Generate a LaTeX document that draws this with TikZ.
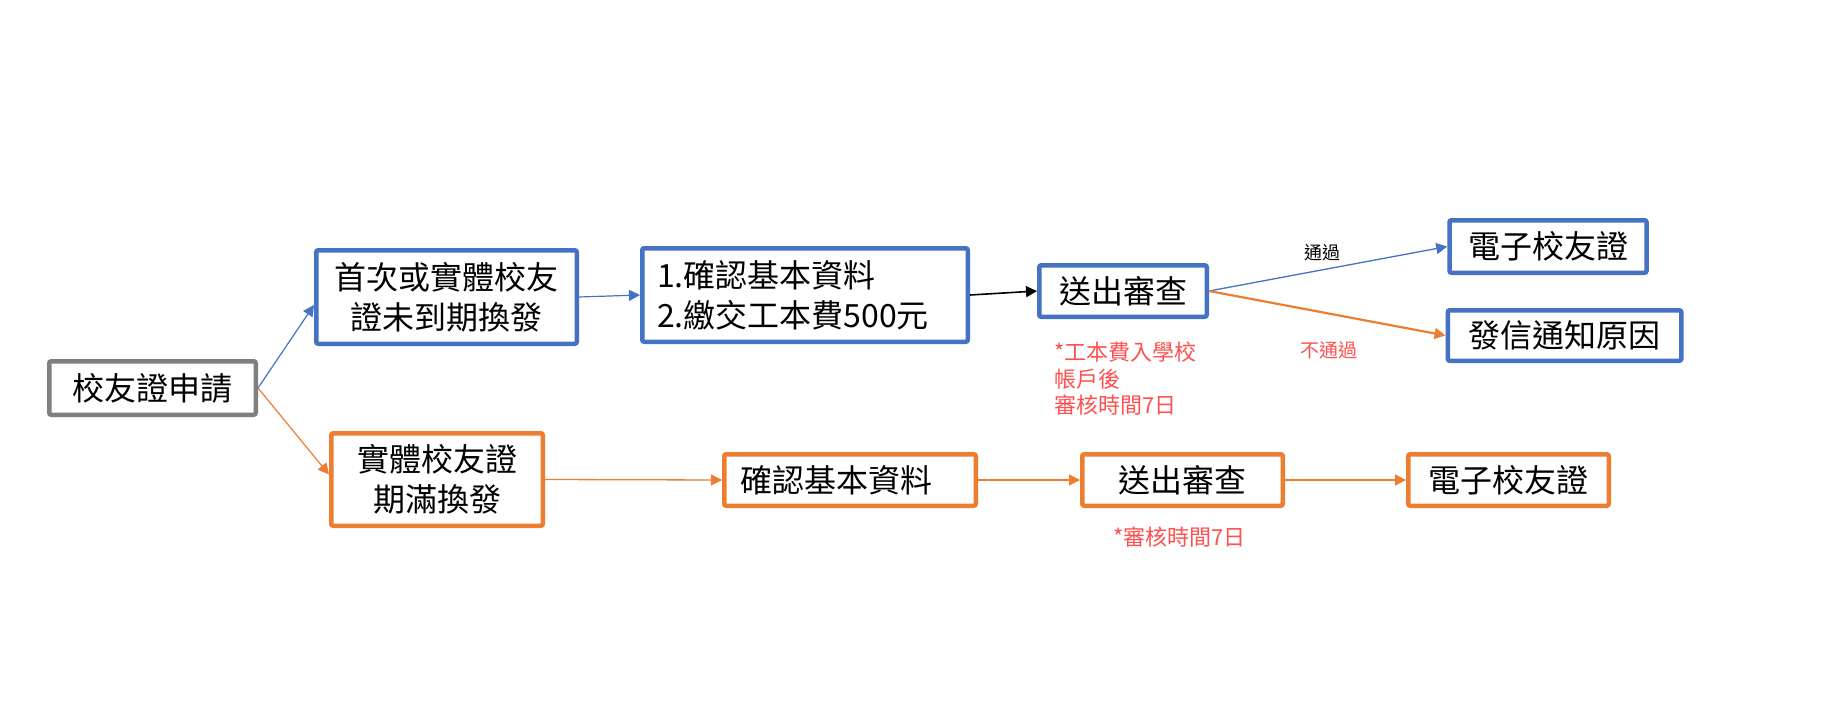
\documentclass[tikz,border=0pt]{standalone}
\usepackage{fontspec}
\setmainfont{Noto Sans CJK TC}
\usetikzlibrary{arrows.meta,calc}
\definecolor{cblue}{HTML}{4472C4}
\definecolor{corange}{HTML}{ED7D31}
\definecolor{cgray}{HTML}{7F7F7F}
\definecolor{cred}{HTML}{FF5050}
\begin{document}
\begin{tikzpicture}[x=1pt,y=-1pt,
  box/.style={draw, line width=4.5pt, rounded corners=2pt, fill=white,
    font=\fontsize{32}{40}\selectfont, align=center, inner sep=0pt},
  note/.style={text=cred, font=\fontsize{22}{26.5}\selectfont, align=left, inner sep=0pt},
  arr/.style={-{Triangle[length=11pt,width=11pt]}}
]
\useasboundingbox (0,0) rectangle (1833,709);
% boxes
\node[box, draw=cgray, minimum width=206.5, minimum height=53.5] (apply) at (152.5,388) {校友證申請};
\node[box, draw=cblue, minimum width=260.5, minimum height=93.5] (b1) at (446.5,297) {首次或實體校友\\證未到期換發};
\node[box, draw=cblue, minimum width=325.5, minimum height=93.5, text width=296, align=left] (b2) at (805,295) {1.確認基本資料\\2.繳交工本費500元};
\node[box, draw=cblue, minimum width=167.5, minimum height=51.5] (s1) at (1123,291) {送出審查};
\node[box, draw=cblue, minimum width=197, minimum height=52.5] (e1) at (1548,246.5) {電子校友證};
\node[box, draw=cblue, minimum width=233.5, minimum height=50.5] (f1) at (1564.5,335.5) {發信通知原因};
\node[box, draw=corange, minimum width=211.5, minimum height=92.5] (o1) at (437,479.5) {實體校友證\\期滿換發};
\node[box, draw=corange, minimum width=251.5, minimum height=51.5, text width=220, align=left] (o2) at (850,480) {確認基本資料};
\node[box, draw=corange, minimum width=200.5, minimum height=51.5] (o3) at (1182.5,480) {送出審查};
\node[box, draw=corange, minimum width=200.5, minimum height=51.5] (o4) at (1508.5,480) {電子校友證};
% notes
\node[note, anchor=north west] (n1) at (1054,342) {*工本費入學校\\帳戶後\\審核時間7日};
\node[note, anchor=west] (n2) at (1113,537) {*審核時間7日};
\node[font=\fontsize{18}{20}\selectfont, inner sep=0pt] (lab1) at (1322,253) {通過};
\node[font=\fontsize{19}{21}\selectfont, text=cred, inner sep=0pt] (lab2) at (1329,350) {不通過};
% connectors
\draw[arr, cblue, line width=1.2pt] (apply.east) -- ($(b1.west)+(0,8)$);
\draw[arr, corange, line width=1.2pt] (apply.east) -- ($(o1.west)+(0,-5)$);
\draw[arr, cblue, line width=1.2pt] (b1.east) -- (b2.west);
\draw[arr, black, line width=1.6pt] (b2.east) -- (s1.west);
\draw[arr, cblue, line width=1.3pt] (s1.east) -- (e1.west);
\draw[arr, corange, line width=2.2pt] (s1.east) -- (f1.west);
\draw[arr, corange, line width=1.3pt] (o1.east) -- (o2.west);
\draw[arr, corange, line width=1.3pt] (o2.east) -- (o3.west);
\draw[arr, corange, line width=1.3pt] (o3.east) -- (o4.west);
\end{tikzpicture}
\end{document}
